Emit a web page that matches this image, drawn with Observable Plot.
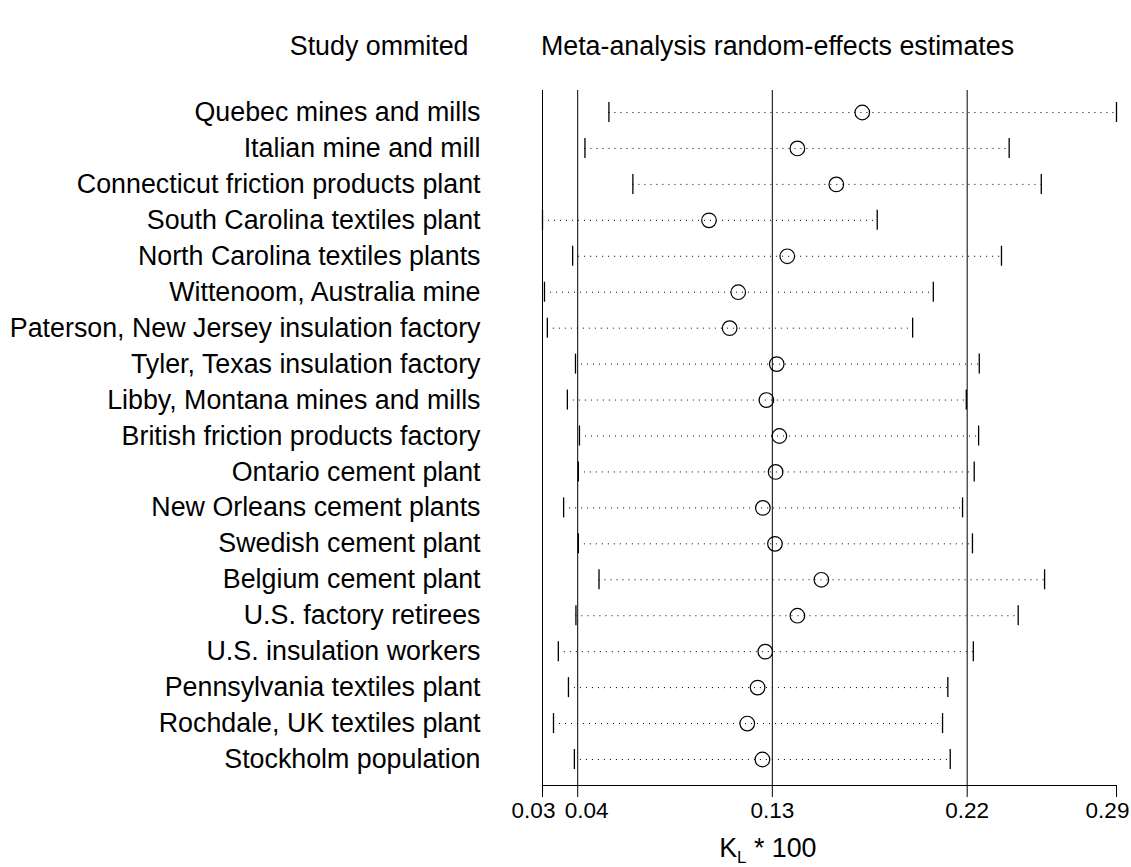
<!DOCTYPE html>
<html>
<head>
<meta charset="utf-8">
<script src="https://cdn.jsdelivr.net/npm/d3@7"></script>
<script src="https://cdn.jsdelivr.net/npm/@observablehq/plot@0.6"></script>
<style>
  html, body { margin: 0; padding: 0; background: #fff; }
  svg { font-family: "Liberation Sans", Arial, sans-serif; }
</style>
</head>
<body>
<div id="chart"></div>
<script>
// Study omitted (one row per study, top to bottom)
const studies = [
  "Quebec mines and mills",
  "Italian mine and mill",
  "Connecticut friction products plant",
  "South Carolina textiles plant",
  "North Carolina textiles plants",
  "Wittenoom, Australia mine",
  "Paterson, New Jersey insulation factory",
  "Tyler, Texas insulation factory",
  "Libby, Montana mines and mills",
  "British friction products factory",
  "Ontario cement plant",
  "New Orleans cement plants",
  "Swedish cement plant",
  "Belgium cement plant",
  "U.S. factory retirees",
  "U.S. insulation workers",
  "Pennsylvania textiles plant",
  "Rochdale, UK textiles plant",
  "Stockholm population"
];
// Random-effects estimate (K_L * 100) with the study omitted
const estimates = [0.1709, 0.1414, 0.1591, 0.1012, 0.1368, 0.1145, 0.1106, 0.1320, 0.1273, 0.1332,
                   0.1315, 0.1257, 0.1312, 0.1523, 0.1414, 0.1268, 0.1233, 0.1186, 0.1255];
const lowerCI   = [0.0557, 0.0448, 0.0666, 0.0255, 0.0392, 0.0264, 0.0277, 0.0405, 0.0368, 0.0423,
                   0.0418, 0.0351, 0.0418, 0.0512, 0.0407, 0.0327, 0.0373, 0.0305, 0.0400];
const upperCI   = [0.2865, 0.2377, 0.2523, 0.1777, 0.2342, 0.2032, 0.1938, 0.2241, 0.2182, 0.2238,
                   0.2218, 0.2165, 0.2210, 0.2538, 0.2418, 0.2214, 0.2098, 0.2074, 0.2109];
// Axis ticks: minimum lower bound, overall lower CI, overall estimate, overall upper CI, maximum upper bound
const tickValues = [0.0255, 0.0415, 0.1300, 0.2186, 0.2865];
const tickLabels = ["0.03", "0.04", "0.13", "0.22", "0.29"];
// Reference lines: min, overall lower CI, overall estimate, overall upper CI
const refLines = [0.0255, 0.0415, 0.1300, 0.2186];

const rows = studies.map((s, i) => ({row: i, study: s, est: estimates[i], lo: lowerCI[i], hi: upperCI[i]}));
const ticks = tickValues.map((v, i) => ({v, label: tickLabels[i], i}));

// label nudges (style only), so neighbouring tick labels do not collide
const nudge = [-9, 9, 0, 0, -9];
const tickLabelMarks = [-9, 0, 9].map(dx =>
  Plot.text(ticks.filter(d => nudge[d.i] === dx), {
    x: "v", text: "label", frameAnchor: "bottom", lineAnchor: "middle",
    dy: 25, dx, fontSize: 22.5, fill: "#000"
  })
);

const W = 1131, H = 867;
const plot = Plot.plot({
  width: W,
  height: H,
  marginLeft: 542,
  marginRight: 15,
  marginTop: 90,
  marginBottom: 82,
  style: {fontFamily: "'Liberation Sans', Arial, sans-serif", background: "#fff", color: "#000"},
  x: {domain: [tickValues[0], tickValues[4]]},
  y: {type: "linear", domain: [0, studies.length - 1], range: [112, 759]},
  marks: [
    Plot.ruleX(refLines, {stroke: "#000", strokeWidth: 1}),
    Plot.frame({anchor: "bottom", stroke: "#000", strokeWidth: 1}),
    Plot.ruleY(rows, {y: "row", x1: "lo", x2: "hi", stroke: "#000", strokeWidth: 1, strokeDasharray: "1,5"}),
    Plot.ruleX(rows, {x: "lo", y1: "row", y2: "row", insetTop: -10, insetBottom: -10, stroke: "#000", strokeWidth: 1.3}),
    Plot.ruleX(rows, {x: "hi", y1: "row", y2: "row", insetTop: -10, insetBottom: -10, stroke: "#000", strokeWidth: 1.3}),
    Plot.dot(rows, {x: "est", y: "row", r: 7.3, stroke: "#000", strokeWidth: 1.2, fill: "none"}),
    Plot.axisX({ticks: tickValues, tickFormat: () => "", tickSize: 12, label: null, stroke: "#000"}),
    ...tickLabelMarks,
    Plot.axisY({ticks: d3.range(studies.length), tickFormat: i => studies[i], tickSize: 0, tickPadding: 62,
                fontSize: 26.8, label: null, color: "#000"}),
    Plot.text(["Study ommited"], {frameAnchor: "top-left", text: d => d, textAnchor: "end", lineAnchor: "middle",
                dx: -74, dy: -44, fontSize: 26.8, fill: "#000"}),
    Plot.text(["Meta-analysis random-effects estimates"], {frameAnchor: "top-left", text: d => d, lineAnchor: "middle",
                textAnchor: "middle", dx: 235, dy: -44, fontSize: 26.8, fill: "#000"})
  ]
});
document.getElementById("chart").appendChild(plot);

// Axis title with subscript, positioned through the x scale
const xs = plot.scale("x");
const svg = d3.select(plot);
const t = svg.append("text")
  .attr("x", xs.apply(tickValues[2]) - 4)
  .attr("y", H - 10)
  .attr("text-anchor", "middle")
  .attr("font-size", 26.8)
  .attr("fill", "#000");
t.append("tspan").text("K");
t.append("tspan").attr("font-size", 17).attr("dy", 6).text("L");
t.append("tspan").attr("dy", -6).text(" * 100");
</script>
</body>
</html>
